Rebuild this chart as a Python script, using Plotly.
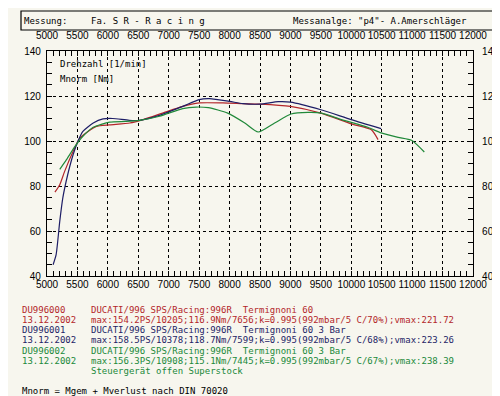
import plotly.graph_objects as go

# ---- data ----
rpm_blue = [5100, 5150, 5210, 5260, 5340, 5430, 5510, 5590, 5760, 5920, 6080, 6350, 6520, 6850, 7230, 7500, 7670, 8000, 8220, 8500, 8800, 9000, 9500, 10000, 10490]
nm_blue = [45, 49.5, 64.4, 74.7, 85, 94, 100, 104.3, 108, 109.8, 110, 109.2, 109.2, 111.4, 115.4, 118.4, 118.8, 117.6, 116.6, 116.4, 117.5, 117.3, 113.9, 109.5, 105.5]

rpm_red = [5130, 5210, 5290, 5430, 5540, 5810, 6030, 6360, 6580, 6900, 7230, 7500, 7890, 8220, 8500, 9000, 9500, 10000, 10330, 10440]
nm_red = [77.3, 80.6, 86.5, 95.4, 101.3, 106.5, 107.2, 108, 109.5, 112.4, 115.4, 116.9, 116.9, 116.6, 116.4, 115.4, 112.4, 107.6, 105, 100.6]

rpm_green = [5210, 5320, 5460, 5590, 5760, 6030, 6300, 6520, 6850, 7230, 7450, 7650, 7970, 8250, 8470, 8740, 9010, 9290, 9510, 9840, 10270, 10490, 10770, 10990, 11200]
nm_green = [87.4, 91.7, 97.6, 102.1, 106.1, 108.4, 108.7, 109.2, 111, 114.4, 115.1, 114.8, 112.4, 108, 104, 108, 112, 112.7, 112.4, 109.5, 106.1, 103.6, 101.6, 100.3, 95.1]

x_ticks = [5000, 5500, 6000, 6500, 7000, 7500, 8000, 8500, 9000, 9500, 10000, 10500, 11000, 11500, 12000]
y_ticks = [40, 60, 80, 100, 120, 140]

RED = "#b3262a"
BLUE = "#1e1e66"
GREEN = "#21893a"
BG = "#f7f6ee"
MONO = "DejaVu Sans Mono"
SANS = "Liberation Sans"

# plot area in pixels
L, R, T, B = 39, 465, 43, 268
W, H = 500, 396


def px(x):
    return (x - L) / (R - L)


def py(y):
    return (B - y) / (B - T)


fig = go.Figure()
fig.add_trace(go.Scatter(x=rpm_red, y=nm_red, mode="lines", line=dict(color=RED, width=1.2, shape="spline", smoothing=0.6), showlegend=False, hoverinfo="skip"))
fig.add_trace(go.Scatter(x=rpm_blue, y=nm_blue, mode="lines", line=dict(color=BLUE, width=1.2, shape="spline", smoothing=0.6), showlegend=False, hoverinfo="skip"))
fig.add_trace(go.Scatter(x=rpm_green, y=nm_green, mode="lines", line=dict(color=GREEN, width=1.2, shape="spline", smoothing=0.6), showlegend=False, hoverinfo="skip"))
# invisible trace to carry the top/right axes
fig.add_trace(go.Scatter(x=[x_ticks[0], x_ticks[-1]], y=[y_ticks[0], y_ticks[-1]], xaxis="x2", yaxis="y2", mode="lines", line=dict(width=0, color="rgba(0,0,0,0)"), showlegend=False, hoverinfo="skip"))

axis_common = dict(showline=True, linecolor="black", linewidth=1.2, ticks="inside", ticklen=5, tickcolor="black", tickwidth=1, zeroline=False,
                   tickangle=0, automargin=False, tickfont=dict(family=SANS, size=10, color="black"))

fig.update_layout(
    width=W, height=H,
    margin=dict(l=L, r=W - R, t=T, b=H - B, pad=0),
    paper_bgcolor=BG, plot_bgcolor=BG,
    xaxis=dict(range=[5000, 12000], tickvals=x_ticks, ticktext=[str(v) for v in x_ticks], showgrid=True, gridcolor="black", griddash="dot", gridwidth=1,
               minor=dict(dtick=100, tick0=5000, ticks="inside", ticklen=5, tickcolor="black", showgrid=False), ticklabelstandoff=-1, **axis_common),
    yaxis=dict(range=[40, 140], tickvals=y_ticks, showgrid=True, gridcolor="black", griddash="dot", gridwidth=1,
               minor=dict(dtick=5, tick0=40, ticks="inside", ticklen=5, tickcolor="black", showgrid=False), ticklabelstandoff=3, **axis_common),
    xaxis2=dict(range=[5000, 12000], overlaying="x", side="top", tickvals=x_ticks, ticktext=[str(v) for v in x_ticks], showgrid=False,
                minor=dict(dtick=100, tick0=5000, ticks="inside", ticklen=5, tickcolor="black"), ticklabelstandoff=7, **axis_common),
    yaxis2=dict(range=[40, 140], overlaying="y", side="right", tickvals=y_ticks, showgrid=False,
                minor=dict(dtick=5, tick0=40, ticks="inside", ticklen=5, tickcolor="black"), ticklabelstandoff=6, **axis_common),
)

# header box
fig.add_shape(type="rect", xref="paper", yref="paper", x0=px(13), x1=px(493), y0=py(22), y1=py(3), line=dict(color="black", width=1.2), fillcolor="rgba(0,0,0,0)")


def txt(x, y, s, color="black", size=9):
    fig.add_annotation(xref="paper", yref="paper", x=px(x), y=py(y), text=s, showarrow=False, xanchor="left", yanchor="middle",
                       borderpad=0, font=dict(family=MONO, size=size, color=color))


txt(15, 13, "Messung:")
txt(82, 13, "Fa. S R - R a c i n g")
txt(284, 13, "Messanalge: \"p4\"- A.Amerschläger")
txt(51, 56, "Drehzahl [1/min]")
txt(51, 71, "Mnorm [Nm]")

lines = [
    (301.5, "DU996000", "DUCATI/996 SPS/Racing:996R  Termignoni 60", RED),
    (311.8, "13.12.2002", "max:154.2PS/10205;116.9Nm/7656;k=0.995(992mbar/5 C/70%);vmax:221.72", RED),
    (322.1, "DU996001", "DUCATI/996 SPS/Racing:996R  Termignoni 60 3 Bar", BLUE),
    (332.4, "13.12.2002", "max:158.5PS/10378;118.7Nm/7599;k=0.995(992mbar/5 C/68%);vmax:223.26", BLUE),
    (342.7, "DU996002", "DUCATI/996 SPS/Racing:996R  Termignoni 60 3 Bar", GREEN),
    (353.0, "13.12.2002", "max:156.3PS/10908;115.1Nm/7445;k=0.995(992mbar/5 C/67%);vmax:238.39", GREEN),
    (363.3, "", "Steuergerät offen Superstock", GREEN),
]
for y, a, b, c in lines:
    if a:
        txt(13, y, a, c)
    txt(82, y, b, c)
txt(13, 383, "Mnorm = Mgem + Mverlust nach DIN 70020")

fig.write_html("out.html")
